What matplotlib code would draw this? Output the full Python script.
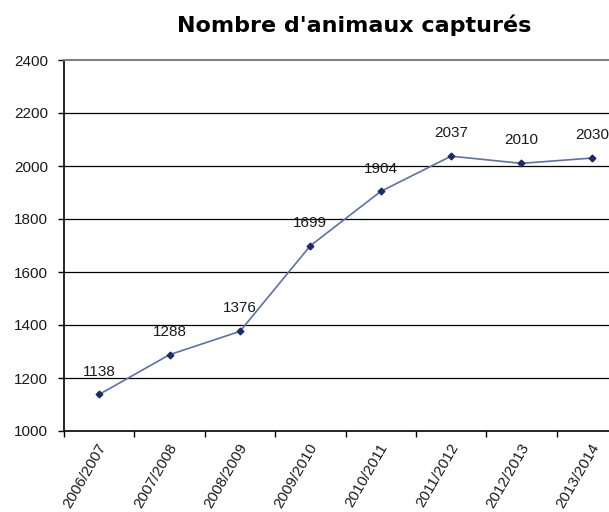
import matplotlib
matplotlib.use("Agg")
import matplotlib.pyplot as plt
import matplotlib.transforms as mtransforms

# donnees
saisons = ["2006/2007", "2007/2008", "2008/2009", "2009/2010",
           "2010/2011", "2011/2012", "2012/2013", "2013/2014"]
captures = [1138, 1288, 1376, 1699, 1904, 2037, 2010, 2030]

plt.rcParams['font.family'] = ['Liberation Sans', 'DejaVu Sans']

fig = plt.figure(figsize=(6.09, 5.12), dpi=100)
ax = fig.add_axes([64 / 609, 81 / 512, 563 / 609, 371 / 512])

x = list(range(len(saisons)))
ax.plot(x, captures, color='#5b72a8', lw=1.2, marker='D', markersize=3.4,
        markerfacecolor='#1c2c6a', markeredgecolor='#1c2c6a', zorder=3)

for xi, v in zip(x, captures):
    ax.annotate(str(v), (xi, v), xytext=(0, 16.5), textcoords='offset points',
                ha='center', va='center', fontsize=11, color='#1a1a1a')

ax.set_xlim(-0.5, len(saisons) - 0.5)
ax.set_ylim(1000, 2400)
ax.set_yticks(range(1000, 2401, 200))
ax.set_yticklabels([str(t) for t in range(1000, 2401, 200)], fontsize=11,
                   color='#1a1a1a')

ax.set_xticks([i - 0.5 for i in range(len(saisons))] + [len(saisons) - 0.5])
ax.set_xticklabels([])
ax.set_xticks(x, minor=True)
ax.set_xticklabels(saisons, minor=True, rotation=60, ha='right', va='center',
                   rotation_mode='anchor', fontsize=11, color='#1a1a1a')
ax.tick_params(axis='x', which='minor', length=0, pad=9.5)
ax.tick_params(axis='x', which='major', length=4.3, width=1, direction='out',
               color='black')
ax.tick_params(axis='y', length=4.3, width=1, direction='out', pad=7)

# decaler un peu les etiquettes de l'axe x vers la droite
decalage = mtransforms.ScaledTranslation(4 / 100, 0, fig.dpi_scale_trans)
for lab in ax.xaxis.get_minorticklabels():
    lab.set_transform(lab.get_transform() + decalage)

for t in range(1200, 2400, 200):
    ax.axhline(t, color='black', lw=0.9, zorder=1)

ax.spines['top'].set_color('#808080')
ax.spines['top'].set_linewidth(1.5)
ax.spines['right'].set_visible(False)
ax.spines['left'].set_linewidth(1.2)
ax.spines['bottom'].set_linewidth(1.2)

fig.text(354 / 609, 1 - 31.5 / 512, "Nombre d'animaux capturés", ha='center',
         va='baseline', fontsize=16, fontweight='bold', family='DejaVu Sans')

fig.savefig("out.png", dpi=100)
